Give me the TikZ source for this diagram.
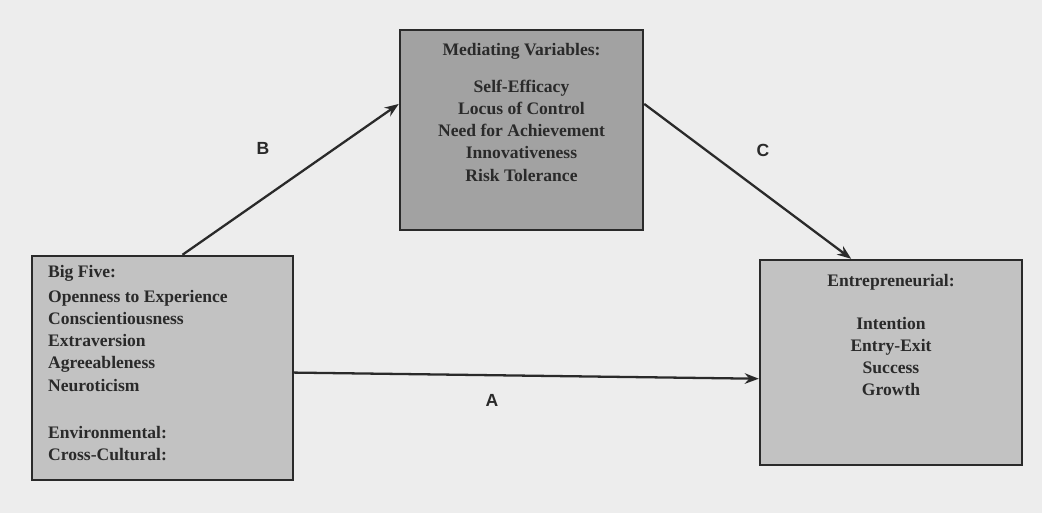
\documentclass[tikz,border=0pt]{standalone}
\usepackage{fontspec}
\setmainfont{Liberation Serif}
\newfontfamily\letterfont{Liberation Sans}
\usepackage{xcolor}
\usetikzlibrary{arrows.meta, positioning}

\definecolor{paper}{HTML}{EDEDED}
\definecolor{boxlight}{HTML}{C2C2C2}
\definecolor{boxdark}{HTML}{A2A2A2}
\definecolor{ink}{HTML}{2A2A2A}

\begin{document}
\begin{tikzpicture}[
    x=0.02cm, y=-0.02cm,
    varbox/.style={rectangle, draw=ink, line width=1.4pt, fill=boxlight},
    medbox/.style={varbox, fill=boxdark},
    vartext/.style={inner sep=0pt, font=\bfseries\fontsize{10}{12.6}\selectfont, text=ink},
    letter/.style={font=\letterfont\bfseries\fontsize{10}{12}\selectfont, text=ink},
    arrow/.style={line width=1.3pt, draw=ink, -{Stealth[length=8pt, width=6pt]}},
]
\useasboundingbox[fill=paper] (0,0) rectangle (1042,513);

% Boxes
\node[varbox, minimum width=5.22cm, minimum height=4.48cm] (five) at (162.5,368) {};
\node[medbox, minimum width=4.86cm, minimum height=4.0cm] (mediator) at (521.5,130) {};
\node[varbox, minimum width=5.24cm, minimum height=4.1cm] (outcome) at (891,362.5) {};

% Texts
\node[vartext, align=left, anchor=north west] (fivetext) at ([xshift=0.34cm, yshift=-0.2cm]five.north west)
  {Big Five:\\[0.06cm] Openness to Experience\\ Conscientiousness\\ Extraversion\\ Agreeableness\\ Neuroticism\\[0.5cm] Environmental:\\ Cross-Cultural:};
\node[vartext, align=center, anchor=north] (medtext) at ([yshift=-0.28cm]mediator.north)
  {Mediating Variables:\\[0.3cm] Self-Efficacy\\ Locus of Control\\ Need for Achievement\\ Innovativeness\\ Risk Tolerance};
\node[vartext, align=center, anchor=north] (outtext) at ([yshift=-0.3cm]outcome.north)
  {Entrepreneurial:\\[0.42cm] Intention\\ Entry-Exit\\ Success\\ Growth};

% Arrows
\draw[arrow] (five.80) -- (mediator.168);
\draw[arrow] (mediator.12) -- (outcome.111);
\draw[arrow] (five.-2) -- (outcome.187);

% Labels
\node[letter] (labB) at (263,148) {B};
\node[letter] (labC) at (763,150) {C};
\node[letter] (labA) at (492,400) {A};

\end{tikzpicture}
\end{document}
